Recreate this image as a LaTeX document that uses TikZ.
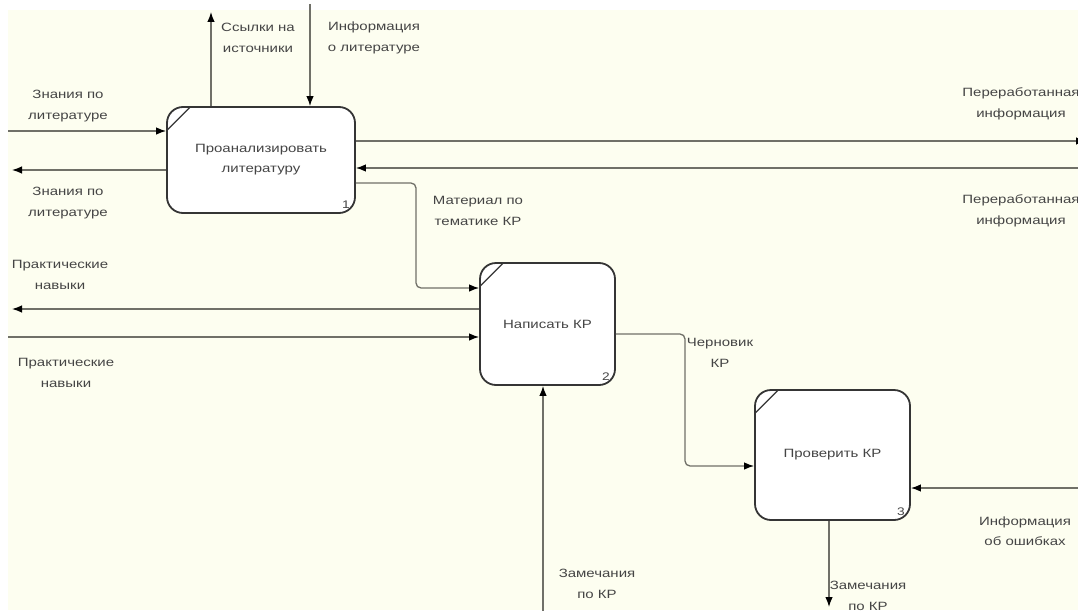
\documentclass[tikz,border=0pt]{standalone}
\usepackage{fontspec}
\setmainfont{Liberation Sans}
\newfontfamily\labfont[FakeStretch=1.25]{Liberation Sans}
\usetikzlibrary{arrows.meta,calc}
\definecolor{bgcream}{HTML}{FDFEF0}
\definecolor{linegrey}{HTML}{707068}
\definecolor{boxline}{HTML}{353535}
\definecolor{txtgrey}{HTML}{454545}
\tikzset{
  fn/.style={draw=boxline, line width=1.8pt, rounded corners=16pt, fill=white,
    inner sep=0pt, font=\labfont\fontsize{12}{20}\selectfont, text=txtgrey, align=center},
  arr/.style={draw=linegrey, line width=1.3pt, rounded corners=5pt,
    -{Latex[length=10pt,width=7.5pt,color=black]}},
  lab/.style={font=\labfont\fontsize{12}{20.5}\selectfont, text=txtgrey, align=center, inner sep=0pt},
  num/.style={font=\labfont\fontsize{11}{11}\selectfont, text=txtgrey, inner sep=0pt},
  corner/.style={draw=boxline, line width=1.2pt}
}
\begin{document}
\begin{tikzpicture}[x=1pt,y=-1pt]
\useasboundingbox (0,0) rectangle (1078,610);
\clip (0,0) rectangle (1078,610);
\fill[white] (0,0) rectangle (1078,610);
\fill[bgcream] (8,10) rectangle (1078,610);

% boxes
\node[fn, minimum width=188pt, minimum height=106pt] (b1) at (261,160) {Проанализировать\\литературу};
\node[fn, minimum width=135pt, minimum height=122pt] (b2) at (547.5,324) {Написать КР};
\node[fn, minimum width=155pt, minimum height=130pt] (b3) at (832.5,455) {Проверить КР};

% corner marks and numbers
\foreach \b in {b1,b2,b3}{
  \draw[corner] ($(\b.north west)+(1,24)$) -- ($(\b.north west)+(24,1)$);
}
\node[num] (n1) at ($(b1.south east)+(-10,-9)$) {1};
\node[num] (n2) at ($(b2.south east)+(-10,-9)$) {2};
\node[num] (n3) at ($(b3.south east)+(-10,-9)$) {3};

% coordinates of free ends
\coordinate (c1) at (211,12);
\coordinate (c2) at (310,4);
\coordinate (c3) at (8,131);
\coordinate (c4) at (12,170);
\coordinate (c5) at (1086,141);
\coordinate (c6) at (1084,168);
\coordinate (c7) at (12,309);
\coordinate (c8) at (8,337);
\coordinate (c9) at (543,614);
\coordinate (c10) at (829,607);
\coordinate (c11) at (1084,488);

% connectors box 1
\draw[arr] (b1.north -| c1) -- (c1);
\draw[arr] (c2) -- (b1.north -| c2);
\draw[arr] (c3) -- (b1.west |- c3);
\draw[arr] (b1.west |- c4) -- (c4);
\draw[arr] (b1.east |- c5) -- (c5);
\draw[arr] (c6) -- (b1.east |- c6);
\draw[arr] ($(b1.east)+(0,23)$) -- (416,183) -- (416,288) -- (b2.west |- 0,288);

% connectors box 2
\draw[arr] (b2.west |- c7) -- (c7);
\draw[arr] (c8) -- (b2.west |- c8);
\draw[arr] (c9) -- (b2.south -| c9);
\draw[arr] (b2.east |- 0,334) -- (685,334) -- (685,466) -- (b3.west |- 0,466);

% connectors box 3
\draw[arr] (b3.south -| c10) -- (c10);
\draw[arr] (c11) -- (b3.east |- c11);

% labels
\node[lab] (l1) at (258,38) {Ссылки на\\источники};
\node[lab] (l2) at (374,38) {Информация\\о литературе};
\node[lab] (l3) at (68,106) {Знания по\\литературе};
\node[lab] (l4) at (68,203) {Знания по\\литературе};
\node[lab] (l5) at (1021,104) {Переработанная\\информация};
\node[lab] (l6) at (1021,211) {Переработанная\\информация};
\node[lab] (l7) at (478,211) {Материал по\\тематике КР};
\node[lab] (l8) at (60,275) {Практические\\навыки};
\node[lab] (l9) at (66,373) {Практические\\навыки};
\node[lab] (l10) at (720,353) {Черновик\\КР};
\node[lab] (l11) at (597,584) {Замечания\\по КР};
\node[lab] (l12) at (868,596) {Замечания\\по КР};
\node[lab] (l13) at (1025,531) {Информация\\об ошибках};
\end{tikzpicture}
\end{document}
